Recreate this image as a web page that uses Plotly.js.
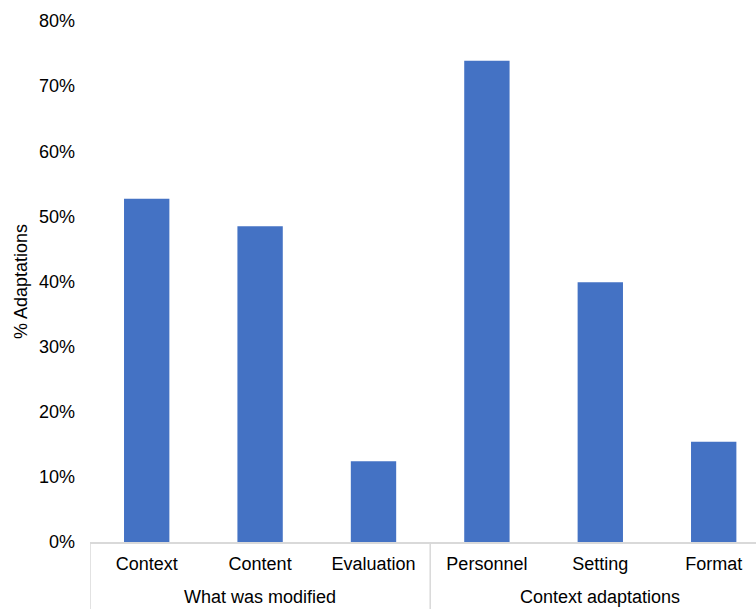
<!DOCTYPE html>
<html>
<head>
<meta charset="utf-8">
<script src="https://cdn.plot.ly/plotly-3.0.1.min.js"></script>
<style>
  html, body { margin: 0; padding: 0; background: #ffffff; }
  #chart { width: 756px; height: 609px; }
</style>
</head>
<body>
<div id="chart"></div>
<script>
// Group (outer level) and item (inner level) labels
const groups = ["What was modified", "What was modified", "What was modified",
                "Context adaptations", "Context adaptations", "Context adaptations"];
const items = ["Context", "Content", "Evaluation", "Personnel", "Setting", "Format"];
// Share of adaptations per item, in percent
const shares = [52.7, 48.5, 12.4, 73.9, 39.9, 15.4];
const yTicks = [0, 10, 20, 30, 40, 50, 60, 70, 80];

const fontFamily = "Liberation Sans, Arial, sans-serif";
const lineColor = "#d9d9d9";
const plotHeight = 609 - 21 - 67;

// Collect contiguous runs of the same group: [name, firstIndex, lastIndex]
const runs = [];
groups.forEach((g, i) => {
  const last = runs[runs.length - 1];
  if (last && last[0] === g) last[2] = i;
  else runs.push([g, i, i]);
});

// Group name centred under its items
const groupLabels = runs.map(([name, a, b]) => ({
  x: (a + b) / 2, xref: "x",
  y: -55 / plotHeight, yref: "paper",
  text: name, showarrow: false,
  xanchor: "center", yanchor: "middle",
  font: { family: fontFamily, size: 18, color: "#000000" }
}));

// Vertical separators at the left edge of every group
const dividers = runs.map(([, a]) => ({
  type: "line", xref: "x", yref: "paper",
  x0: a - 0.5, x1: a - 0.5, y0: 0, y1: -67 / plotHeight,
  line: { color: lineColor, width: 1.5 }
}));

const trace = {
  type: "bar",
  x: items,
  y: shares.map(v => v / 100),
  marker: { color: "#4472C4", line: { width: 0 } },
  hoverinfo: "x+y"
};

const layout = {
  width: 756,
  height: 609,
  margin: { l: 90, r: 0, t: 21, b: 67 },
  paper_bgcolor: "#ffffff",
  plot_bgcolor: "#ffffff",
  showlegend: false,
  bargap: 0.6,
  font: { family: fontFamily, size: 18, color: "#000000" },
  xaxis: {
    type: "category",
    range: [-0.5, 5.373],
    showline: true,
    linecolor: lineColor,
    linewidth: 1.5,
    showgrid: false,
    ticks: "",
    ticklabelstandoff: 5,
    tickfont: { family: fontFamily, size: 18, color: "#000000" },
    automargin: false,
    fixedrange: true
  },
  yaxis: {
    range: [0, 0.8],
    tickvals: yTicks.map(v => v / 100),
    ticktext: yTicks.map(v => v + "%"),
    showgrid: false,
    zeroline: false,
    showline: false,
    ticks: "",
    ticklabelstandoff: 14,
    tickfont: { family: fontFamily, size: 18, color: "#000000" },
    title: { text: "% Adaptations", font: { family: fontFamily, size: 18, color: "#000000" }, standoff: 6 },
    automargin: false,
    fixedrange: true
  },
  annotations: groupLabels,
  shapes: dividers
};

Plotly.newPlot("chart", [trace], layout, { displayModeBar: false, staticPlot: true });
</script>
</body>
</html>
